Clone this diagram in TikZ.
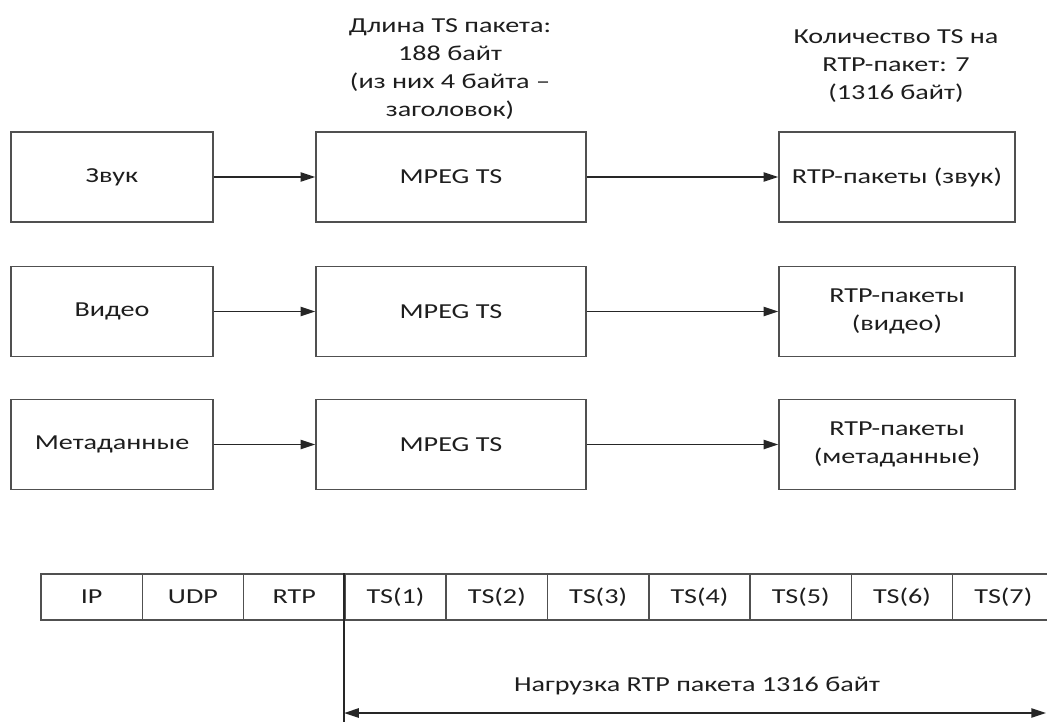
\documentclass[tikz,border=0pt]{standalone}
\usepackage{fontspec}
\setmainfont{Carlito}[FakeStretch=1.32]
\usetikzlibrary{arrows.meta}
\definecolor{boxgray}{HTML}{505050}
\definecolor{txt}{HTML}{1E1E1E}
\begin{document}
\begin{tikzpicture}[x=0.75pt,y=-0.75pt,
  lbl/.style={font=\fontsize{16}{21}\selectfont, text=txt, align=center, inner sep=0pt},
  box/.style={lbl, draw=boxgray, line width=1.1pt, minimum height=67.5pt},
  srcbox/.style={box, minimum width=151.5pt},
  tsbox/.style={box, minimum width=202.5pt},
  rtpbox/.style={box, minimum width=177pt},
  cell/.style={lbl, draw=boxgray, line width=1.1pt, minimum width=76pt, minimum height=34.5pt},
  tip/.tip={Triangle[length=11pt,width=7pt]},
  conn/.style={line width=1.1pt, draw=black!85, -tip},
  span/.style={line width=1.1pt, draw=black!85, tip-tip}
]
\useasboundingbox (0,0) rectangle (1047,722);
\clip (0,0) rectangle (1047,722);

% notes above the columns
\node[lbl] (tsnote) at (450,69) {Длина TS пакета:\\188 байт\\(из них 4 байта –\\заголовок)};
\node[lbl] (rtpnote) at (896,66) {Количество TS на\\RTP-пакет: 7\\(1316 байт)};

% three streams
\node[srcbox] (snd) at (112,177) {Звук};
\node[srcbox] (vid) at (112,311.5) {Видео};
\node[srcbox] (meta) at (112,444.5) {Метаданные};

\node[tsbox] (ts1) at (451,177) {MPEG TS};
\node[tsbox] (ts2) at (451,311.5) {MPEG TS};
\node[tsbox] (ts3) at (451,444.5) {MPEG TS};

\node[rtpbox] (rtp1) at (897,177) {RTP-пакеты (звук)};
\node[rtpbox] (rtp2) at (897,311.5) {RTP-пакеты\\(видео)};
\node[rtpbox] (rtp3) at (897,444.5) {RTP-пакеты\\(метаданные)};

\draw[conn] (snd) -- (ts1);
\draw[conn] (vid) -- (ts2);
\draw[conn] (meta) -- (ts3);
\draw[conn] (ts1) -- (rtp1);
\draw[conn] (ts2) -- (rtp2);
\draw[conn] (ts3) -- (rtp3);

% packet layout
\foreach \t [count=\i from 0] in {IP,UDP,RTP,TS(1),TS(2),TS(3),TS(4),TS(5),TS(6),TS(7)}
  \node[cell] (c\i) at ({41+101.3*(\i+0.5)},597) {\t};

\coordinate (lineend) at (344,722);
\coordinate (spanend) at (1046,713);
\draw[line width=1.1pt, draw=black!85] (c3.north west) -- (c3.north west |- lineend);
\draw[span] (c3.west |- spanend) -- (spanend);
\node[lbl] (payload) at (697,686) {Нагрузка RTP пакета 1316 байт};
\end{tikzpicture}
\end{document}
